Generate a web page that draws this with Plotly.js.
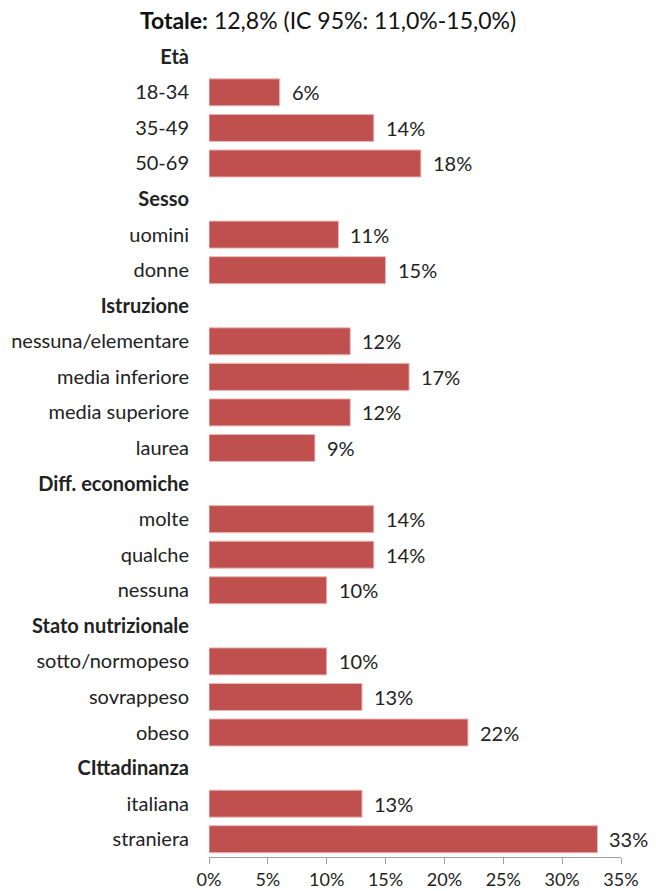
<!DOCTYPE html>
<html>
<head>
<meta charset="utf-8">
<script src="https://cdn.plot.ly/plotly-3.0.1.min.js"></script>
<style>html,body{margin:0;padding:0;background:#fff;}#chart{width:656px;height:891px;}</style>
</head>
<body>
<div id="chart"></div>
<script>
const rowLabels = ["Età","18-34","35-49","50-69","Sesso","uomini","donne","Istruzione","nessuna/elementare","media inferiore","media superiore","laurea","Diff. economiche","molte","qualche","nessuna","Stato nutrizionale","sotto/normopeso","sovrappeso","obeso","CIttadinanza","italiana","straniera"];
const values = [null,6,14,18,null,11,15,null,12,17,12,9,null,14,14,10,null,10,13,22,null,13,33];
const headerRows = ["Età","Sesso","Istruzione","Diff. economiche","Stato nutrizionale","CIttadinanza"];
const xTicks = [0,5,10,15,20,25,30,35];
const xTickLabels = ["0%","5%","10%","15%","20%","25%","30%","35%"];
const titleText = "<b>Totale:</b> 12,8% (IC 95%: 11,0%-15,0%)";

const FONT = "Lato, 'Open Sans', sans-serif";
const barY = [], barX = [];
rowLabels.forEach((c,i)=>{ if(values[i]!==null){ barY.push(c); barX.push(values[i]); } });

const ticktext = rowLabels.map(c => headerRows.includes(c) ? "<b>"+c+"</b>" : c);

const annotations = barY.map((c,i)=>({
  x: barX[i], y: c, xref:'x', yref:'y', text: barX[i]+"%", showarrow:false,
  xanchor:'left', yanchor:'middle', xshift:10,
  font:{family:FONT, size:20, color:'#222'}
}));

const trace = {
  type:'bar', orientation:'h', x: barX, y: barY,
  marker:{color:'#C0504D', line:{color:'#E6B9B8', width:1}},
  hoverinfo:'none'
};

const layout = {
  width:656, height:891,
  margin:{l:209, r:35, t:39, b:34},
  paper_bgcolor:'#fff', plot_bgcolor:'#fff',
  showlegend:false,
  bargap:0.24,
  title:{text:titleText, x:0.5, xanchor:'center', y:1-21/891, yanchor:'middle', yref:'container',
         font:{family:FONT, size:23, color:'#111'}},
  xaxis:{range:[0,35], autorange:false, tickvals:xTicks, ticktext:xTickLabels, showgrid:false, zeroline:false,
         showline:true, linecolor:'#A0A0A0', linewidth:1, ticks:'outside', ticklen:6, tickcolor:'#A0A0A0',
         ticklabelstandoff:0,
         tickfont:{family:FONT, size:18, color:'#222'}, fixedrange:true},
  yaxis:{type:'category', categoryorder:'array', categoryarray:rowLabels, autorange:false,
         range:[rowLabels.length-0.5,-0.5],
         tickvals:rowLabels, ticktext:ticktext, showgrid:false, zeroline:false, showline:false, ticks:'',
         ticklabelstandoff:19,
         tickfont:{family:FONT, size:20, color:'#222'}, fixedrange:true},
  annotations: annotations
};

Plotly.newPlot('chart',[trace],layout,{staticPlot:true, displayModeBar:false});
</script>
</body>
</html>
